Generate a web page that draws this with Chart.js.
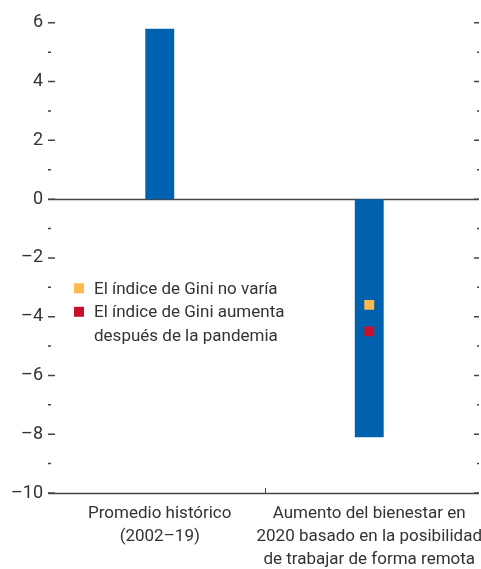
<!DOCTYPE html>
<html>
<head>
<meta charset="utf-8">
<script src="https://cdn.jsdelivr.net/npm/chart.js@4"></script>
<style>
    html, body { margin: 0; padding: 0; background: #fff; overflow: hidden; }
    canvas { display: block; }
</style>
</head>
<body>
<canvas id="giniChart" width="481" height="569"></canvas>
<script>
// Chart data
const categories = [
    ['Promedio histórico', '(2002–19)'],
    ['Aumento del bienestar en', '2020 basado en la posibilidad', 'de trabajar de forma remota']
];
const barValues = [5.8, -8.1];
const giniFlatValues = [null, -3.6];   // El índice de Gini no varía
const giniUpValues = [null, -4.5];     // El índice de Gini aumenta
const legendLabels = [
    ['El índice de Gini no varía'],
    ['El índice de Gini aumenta', 'después de la pandemia']
];
const yMin = -10;
const yMax = 6;

const textColor = '#333333';
const axisColor = '#444444';
const barColor = '#0061AF';
const orange = '#FDB94E';
const red = '#C8102E';
const fontFamily = 'Roboto, "Liberation Sans", Arial, sans-serif';

// Custom axis decorations: floating tick dashes, zero line, baseline, legend
const decorations = {
    id: 'decorations',
    beforeDatasetsDraw(chart) {
        const ctx = chart.ctx;
        const y = chart.scales.y;
        const x = chart.scales.x;
        const area = chart.chartArea;
        ctx.save();
        ctx.strokeStyle = axisColor;

        // tick dashes on both sides
        ctx.lineWidth = 1.5;
        for (let v = yMin; v <= yMax; v++) {
            const py = y.getPixelForValue(v);
            const major = v % 2 === 0;
            ctx.beginPath();
            ctx.moveTo(area.left - 7, py);
            ctx.lineTo(area.left - (major ? 0 : 4), py);
            ctx.moveTo(area.right + (major ? 0 : 3), py);
            ctx.lineTo(area.right + 5, py);
            ctx.stroke();
        }

        // zero line and bottom axis line
        ctx.lineWidth = 1.5;
        [0, yMin].forEach(v => {
            const py = Math.round(y.getPixelForValue(v)) + 0.5;
            ctx.beginPath();
            ctx.moveTo(area.left - 7, py);
            ctx.lineTo(area.right + 5, py);
            ctx.stroke();
        });

        // category separator tick
        const sx = Math.round(x.getPixelForValue(0.5)) + 0.5;
        const by = y.getPixelForValue(yMin);
        ctx.lineWidth = 1;
        ctx.beginPath();
        ctx.moveTo(sx, by);
        ctx.lineTo(sx, by - 5);
        ctx.stroke();
        ctx.restore();
    },
    afterDraw(chart) {
        const ctx = chart.ctx;
        const area = chart.chartArea;
        const y = chart.scales.y;
        ctx.save();
        ctx.font = '17px ' + fontFamily;
        ctx.fillStyle = textColor;
        ctx.textBaseline = 'middle';
        const colors = [orange, red];
        let lineY = y.getPixelForValue(-3.0) + 2;
        const lineH = 23.5;
        legendLabels.forEach((lines, i) => {
            ctx.fillStyle = colors[i];
            ctx.fillRect(area.left + 19, lineY - 6, 10, 10);
            ctx.fillStyle = textColor;
            lines.forEach((t, j) => {
                ctx.fillText(t, area.left + 39, lineY + j * lineH);
            });
            lineY += lines.length * lineH;
        });
        ctx.restore();
    }
};

function initChart() {
    const ctx = document.getElementById('giniChart').getContext('2d');

    new Chart(ctx, {
        type: 'bar',
        data: {
            labels: categories,
            datasets: [
                {
                    label: 'Bienestar',
                    data: barValues,
                    backgroundColor: barColor,
                    borderWidth: 0,
                    categoryPercentage: 1,
                    barPercentage: 0.138,
                    order: 2
                },
                {
                    type: 'line',
                    label: legendLabels[0][0],
                    data: giniFlatValues,
                    showLine: false,
                    pointStyle: 'rect',
                    pointRadius: 7,
                    pointBorderWidth: 0,
                    backgroundColor: orange,
                    order: 1
                },
                {
                    type: 'line',
                    label: legendLabels[1].join(' '),
                    data: giniUpValues,
                    showLine: false,
                    pointStyle: 'rect',
                    pointRadius: 7,
                    pointBorderWidth: 0,
                    backgroundColor: red,
                    order: 0
                }
            ]
        },
        options: {
            responsive: false,
            animation: false,
            layout: {
                padding: { top: 14, right: 5, left: 0, bottom: 0 }
            },
            plugins: {
                legend: { display: false },
                tooltip: { enabled: false }
            },
            scales: {
                x: {
                    grid: { display: false, drawTicks: false },
                    border: { display: false },
                    ticks: {
                        color: textColor,
                        font: { family: fontFamily, size: 17, lineHeight: 1.36 },
                        padding: 9,
                        maxRotation: 0,
                        autoSkip: false
                    },
                    afterFit(scale) {
                        // the long last label may touch the canvas edge, as in the original
                        scale.height = 76;
                        scale.paddingLeft = 0;
                        scale.paddingRight = 0;
                    }
                },
                y: {
                    min: yMin,
                    max: yMax,
                    grid: { display: false, drawTicks: false },
                    border: { display: false },
                    ticks: {
                        stepSize: 1,
                        color: textColor,
                        font: { family: fontFamily, size: 18 },
                        padding: 12,
                        callback: (v) => v % 2 === 0 ? (v < 0 ? '\u2013' + Math.abs(v) : String(v)) : ''
                    },
                    afterFit(scale) { scale.width = 55; }
                }
            }
        },
        plugins: [decorations]
    });
}

document.addEventListener('DOMContentLoaded', initChart);
</script>
</body>
</html>
